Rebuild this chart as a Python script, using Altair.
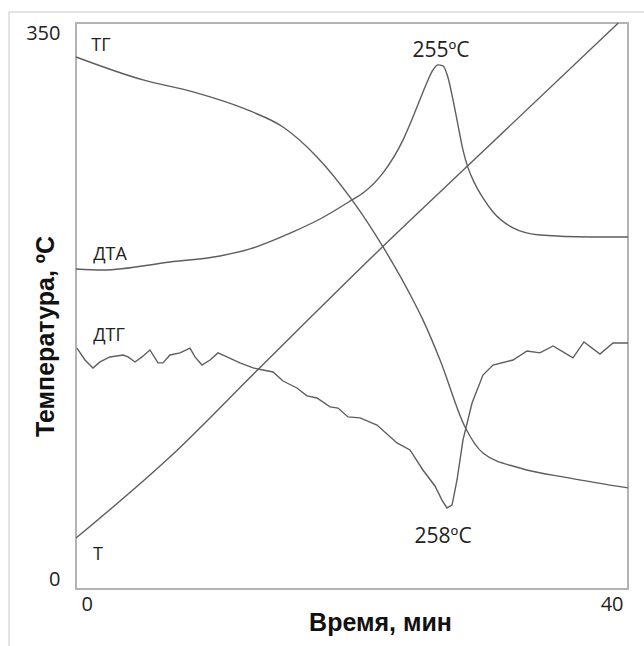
import altair as alt
import pandas as pd

# ---- data ----
t_T = [0.0, 6.8, 13.3, 22.2, 28.6, 39.3]
v_T = [31.5, 81.6, 136.7, 211.5, 263.4, 350.0]

t_TG = [0.0, 4.86, 8.48, 12.61, 15.0, 17.46, 20.0, 22.25, 24.42, 25.14, 26.38,
        28.19, 29.49, 32.17, 35.8, 40.0]
v_TG = [329.0, 314.8, 307.4, 295.6, 285.7, 267.2, 240.6, 211.5, 178.7, 166.4, 141.6,
        100.2, 84.1, 74.8, 68.6, 62.5]

t_DTA = [0.0, 1.96, 6.81, 10.43, 12.61, 15.72, 17.68, 20.0, 20.8, 22.25, 23.70,
         24.42, 25.0, 25.51, 25.87, 26.23, 26.59, 26.96, 27.32, 27.68, 28.04,
         28.41, 28.91, 29.49, 30.22, 31.67, 33.62, 37.25, 40.0]
v_DTA = [197.9, 197.3, 202.2, 205.9, 210.3, 220.8, 228.8, 240.6, 244.9, 257.3, 277.7,
         291.9, 304.3, 314.8, 321.0, 324.1, 323.5, 316.1, 302.4, 286.9, 271.5,
         260.4, 250.5, 241.8, 233.1, 223.3, 218.9, 217.7, 217.7]

t_DTG = [0.07, 0.65, 1.23, 1.74, 2.46, 3.41, 3.77, 4.28, 4.78, 5.36, 5.94, 6.30,
         6.81, 7.54, 8.26, 8.62, 9.13, 9.71, 10.29, 10.94, 11.88, 12.83, 13.55,
         14.28, 15.0, 16.01, 16.74, 17.46, 18.41, 18.99, 19.71, 20.58, 21.81,
         23.26, 24.2, 25.14, 26.01, 26.52, 26.88, 27.25, 27.61, 28.04, 28.70,
         29.49, 30.22, 31.67, 32.68, 33.62, 34.57, 35.29, 36.01, 36.81, 37.97,
         38.91, 40.0]
v_DTG = [149.0, 141.6, 136.7, 140.4, 143.5, 144.7, 143.5, 140.4, 143.5, 147.8, 139.8, 139.8,
         144.7, 146.0, 149.0, 143.5, 138.5, 141.6, 146.0, 143.5, 139.8, 136.7, 135.4,
         134.2, 128.6, 124.3, 119.4, 118.1, 112.6, 111.9, 106.4, 105.8, 101.4,
         90.3, 86.0, 73.6, 63.7, 55.0, 50.1, 51.9, 67.4, 92.1, 115.0,
         132.3, 138.5, 141.6, 147.2, 146.0, 150.3, 146.6, 142.9, 152.8, 145.3,
         152.1, 152.1]

label_text = ["ТГ", "ДТА", "ДТГ", "Т"]
label_t = [1.81, 2.46, 2.39, 1.59]
label_v = [335.8, 206.6, 156.5, 21.0]

peak_text = ["255ºC", "258ºC"]
peak_t = [26.45, 26.6]
peak_v = [332.7, 32.2]

x_ticks = [0, 40]
y_ticks = [0, 350]

# ---- tables ----
smooth = pd.concat([
    pd.DataFrame({"t": t_T, "v": v_T, "s": "Т"}),
    pd.DataFrame({"t": t_TG, "v": v_TG, "s": "ТГ"}),
    pd.DataFrame({"t": t_DTA, "v": v_DTA, "s": "ДТА"}),
], ignore_index=True)
jagged = pd.DataFrame({"t": t_DTG, "v": v_DTG, "s": "ДТГ"})
labels = pd.DataFrame({"t": label_t, "v": label_v, "txt": label_text})
peaks = pd.DataFrame({"t": peak_t, "v": peak_v, "txt": peak_text})

LINE = "#5e5e5e"

xs = alt.Scale(domain=[0, 40], nice=False)
ys = alt.Scale(domain=[0, 350], nice=False)

x_enc = alt.X("t:Q", scale=xs, axis=alt.Axis(
    values=x_ticks, title="Время, мин", grid=False, ticks=False, domain=False,
    labelFlush=True, labelFlushOffset=-5, labelPadding=5,
    labelFont="Open Sans", labelFontSize=20, labelColor="#222",
    titleFont="Liberation Sans", titleFontSize=25, titleFontWeight="bold",
    titleColor="#111", titleX=304, titleY=41, titleAlign="center",
    titleBaseline="alphabetic"))
y_enc = alt.Y("v:Q", scale=ys, axis=alt.Axis(
    values=y_ticks, title="Температура, ºC", grid=False, ticks=False, domain=False,
    labelFlush=True, labelPadding=16,
    labelFont="Open Sans", labelFontSize=20, labelColor="#222",
    titleFont="Liberation Sans", titleFontSize=25, titleFontWeight="bold",
    titleColor="#111", titleX=-31, titleY=313, titleAngle=-90,
    titleAlign="center", titleBaseline="middle"))

base_smooth = alt.Chart(smooth).mark_line(
    color=LINE, strokeWidth=1.4, interpolate="monotone"
).encode(x=x_enc, y=y_enc, detail="s:N")

base_jag = alt.Chart(jagged).mark_line(
    color=LINE, strokeWidth=1.4
).encode(x="t:Q", y="v:Q")

lab = alt.Chart(labels).mark_text(
    font="Open Sans", fontSize=18, color="#222", align="center", baseline="middle"
).encode(x="t:Q", y="v:Q", text="txt:N")

pk = alt.Chart(peaks).mark_text(
    font="Open Sans", fontSize=21, color="#222", align="center", baseline="middle"
).encode(x="t:Q", y="v:Q", text="txt:N")

# faint outer frame of the original figure (decoration only)
frame_left = alt.Chart(pd.DataFrame({"a": [0]})).mark_rule(
    color="#d9d9d9", strokeWidth=1.5
).encode(x=alt.value(-67), y=alt.value(-11), y2=alt.value(623))
frame_top = alt.Chart(pd.DataFrame({"a": [0]})).mark_rule(
    color="#d9d9d9", strokeWidth=1.5
).encode(x=alt.value(-67), x2=alt.value(568), y=alt.value(-11))

chart = alt.layer(
    frame_left, frame_top, base_smooth, base_jag, lab, pk
).properties(
    width=552, height=566,
    autosize=alt.AutoSizeParams(type="none"),
    padding={"left": 76, "top": 23, "right": 16, "bottom": 57},
    background="white",
).configure_view(
    stroke="#b3b3b3", strokeWidth=2
)

chart.save("out.html", embed_options={"renderer": "svg", "actions": False})
